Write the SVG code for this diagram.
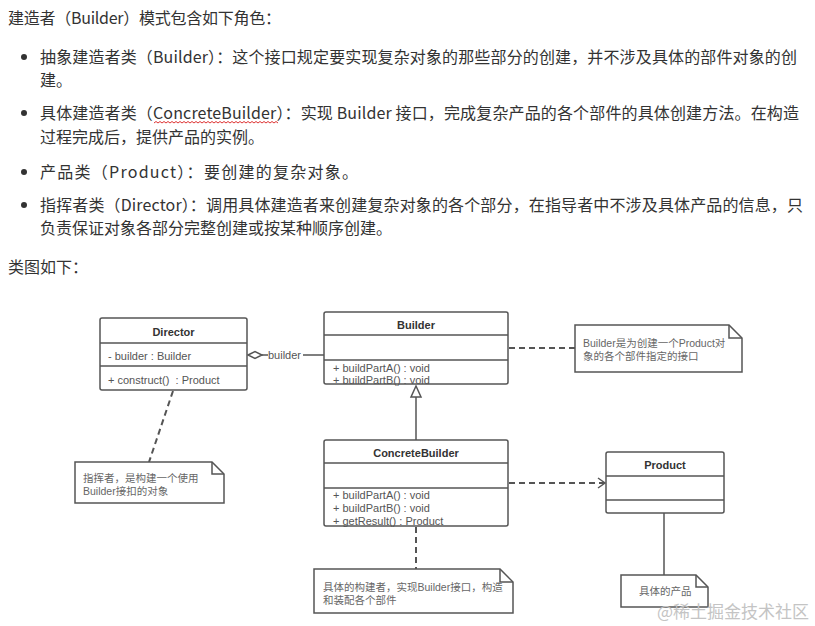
<svg xmlns="http://www.w3.org/2000/svg" width="815" height="626" viewBox="0 0 815 626">
<style>
.t{font-family:"Noto Sans CJK SC","Liberation Sans",sans-serif;font-size:16px;fill:#333}
.box{fill:#fff;stroke:#555;stroke-width:1.5}
.ln{stroke:#555;stroke-width:1.5;fill:none}
.dash{stroke:#555;stroke-width:2;fill:none;stroke-dasharray:6 4}
.ttl{font-family:"Liberation Sans","Noto Sans CJK SC",sans-serif;font-size:11px;font-weight:bold;fill:#333;text-anchor:middle}
.m{font-family:"Liberation Sans","Noto Sans CJK SC",sans-serif;font-size:11px;fill:#555}
.n{font-family:"Liberation Sans","Noto Sans CJK SC",sans-serif;font-size:10.5px;fill:#666}
</style>
<rect width="815" height="626" fill="#fff"/>
<g id="intro">
<text class="t" x="8" y="24" textLength="273" lengthAdjust="spacing">建造者（Builder）模式包含如下角色：</text>
<circle cx="24" cy="57" r="3" fill="#333"/>
<text class="t" x="40" y="63" textLength="757" lengthAdjust="spacing">抽象建造者类（Builder）：这个接口规定要实现复杂对象的那些部分的创建，并不涉及具体的部件对象的创</text>
<text class="t" x="40" y="86">建。</text>
<circle cx="24" cy="113" r="3" fill="#333"/>
<text class="t" x="40" y="119" textLength="759" lengthAdjust="spacing">具体建造者类（ConcreteBuilder）：实现 Builder 接口，完成复杂产品的各个部件的具体创建方法。在构造</text>
<path d="M154 123 l2 -1.5 l2 1.5 l2 -1.5 l2 1.5 l2 -1.5 l2 1.5 l2 -1.5 l2 1.5 l2 -1.5 l2 1.5 l2 -1.5 l2 1.5 l2 -1.5 l2 1.5 l2 -1.5 l2 1.5 l2 -1.5 l2 1.5 l2 -1.5 l2 1.5 l2 -1.5 l2 1.5 l2 -1.5 l2 1.5 l2 -1.5 l2 1.5 l2 -1.5 l2 1.5 l2 -1.5 l2 1.5 l2 -1.5 l2 1.5 l2 -1.5 l2 1.5 l2 -1.5 l2 1.5 l2 -1.5 l2 1.5 l2 -1.5 l2 1.5 l2 -1.5 l2 1.5 l2 -1.5 l2 1.5 l2 -1.5 l2 1.5 l2 -1.5 l2 1.5 l2 -1.5 l2 1.5 l2 -1.5 l2 1.5 l2 -1.5 l2 1.5 l2 -1.5 l2 1.5 l2 -1.5 l2 1.5 l2 -1.5 l2 1.5 l2 -1.5 l2 1.5" fill="none" stroke="#d33" stroke-width="1"/>
<text class="t" x="40" y="143">过程完成后，提供产品的实例。</text>
<circle cx="24" cy="172" r="3" fill="#333"/>
<text class="t" x="40" y="178" textLength="318" lengthAdjust="spacing">产品类（Product）：要创建的复杂对象。</text>
<circle cx="24" cy="205" r="3" fill="#333"/>
<text class="t" x="40" y="211" textLength="763" lengthAdjust="spacing">指挥者类（Director）：调用具体建造者来创建复杂对象的各个部分，在指导者中不涉及具体产品的信息，只</text>
<text class="t" x="40" y="234">负责保证对象各部分完整创建或按某种顺序创建。</text>
<text class="t" x="8" y="273">类图如下：</text>
</g>
<g id="connectors">
<polygon points="248,355 255,351.5 262,355 255,358.5" fill="#fff" stroke="#555" stroke-width="1.5"/>
<line class="ln" x1="262" y1="355" x2="268" y2="355"/>
<text class="m" x="268" y="359" fill="#666">builder</text>
<line class="ln" x1="303" y1="355" x2="324" y2="355"/>
<line class="ln" x1="416" y1="397" x2="416" y2="440"/>
<polygon points="416,386 421,397 411,397" fill="#fff" stroke="#555" stroke-width="1.5"/>
<line class="dash" x1="509" y1="348" x2="575" y2="348"/>
<line class="dash" x1="509" y1="483" x2="604" y2="483"/>
<polyline class="ln" points="598,478 605,483 598,488"/>
<line class="dash" x1="173" y1="391" x2="149" y2="462"/>
<line class="dash" x1="416" y1="527" x2="416" y2="569"/>
<line class="ln" x1="664" y1="513" x2="664" y2="575"/>
</g>
<g id="director">
<rect class="box" x="100" y="318" width="147" height="72" rx="2"/>
<line class="ln" x1="100" y1="343" x2="247" y2="343"/>
<line class="ln" x1="100" y1="366" x2="247" y2="366"/>
<text class="ttl" x="173.5" y="336">Director</text>
<text class="m" x="108" y="360">- builder : Builder</text>
<text class="m" x="108" y="384" xml:space="preserve">+ construct()  : Product</text>
</g>
<g id="builder">
<rect class="box" x="324" y="312" width="184" height="72" rx="2"/>
<line class="ln" x1="324" y1="335" x2="508" y2="335"/>
<line class="ln" x1="324" y1="360" x2="508" y2="360"/>
<text class="ttl" x="416" y="329">Builder</text>
<text class="m" x="333" y="371.5">+ buildPartA() : void</text>
<text class="m" x="333" y="383.5">+ buildPartB() : void</text>
</g>
<g id="concreteBuilder">
<rect class="box" x="324" y="440" width="184" height="86" rx="2"/>
<line class="ln" x1="324" y1="463" x2="508" y2="463"/>
<line class="ln" x1="324" y1="488" x2="508" y2="488"/>
<text class="ttl" x="416" y="457">ConcreteBuilder</text>
<text class="m" x="333" y="499">+ buildPartA() : void</text>
<text class="m" x="333" y="512">+ buildPartB() : void</text>
<text class="m" x="333" y="525">+ getResult() : Product</text>
</g>
<g id="product">
<rect class="box" x="606" y="452" width="118" height="61" rx="2"/>
<line class="ln" x1="606" y1="476" x2="724" y2="476"/>
<line class="ln" x1="606" y1="500" x2="724" y2="500"/>
<text class="ttl" x="665" y="469">Product</text>
</g>
<g id="noteBuilder">
<path class="box" d="M575 325 H729 L742 338 V372 H575 Z"/>
<path class="ln" d="M729 325 V338 H742"/>
<text class="n" x="583" y="347">Builder是为创建一个Product对</text>
<text class="n" x="583" y="359.5">象的各个部件指定的接口</text>
</g>
<g id="noteDirector">
<path class="box" d="M75 462 H212 L224 474 V503 H75 Z"/>
<path class="ln" d="M212 462 V474 H224"/>
<text class="n" x="83" y="482">指挥者，是构建一个使用</text>
<text class="n" x="83" y="495">Builder接扣的对象</text>
</g>
<g id="noteConcreteBuilder">
<path class="box" d="M314 569 H500 L513 582 V613 H314 Z"/>
<path class="ln" d="M500 569 V582 H513"/>
<text class="n" x="323" y="591">具体的构建者，实现Builder接口，构造</text>
<text class="n" x="323" y="604">和装配各个部件</text>
</g>
<g id="noteProduct">
<path class="box" d="M621 575 H696 L708 587 V607 H621 Z"/>
<path class="ln" d="M696 575 V587 H708"/>
<text class="n" x="639" y="594.5">具体的产品</text>
</g>
<text x="657" y="617.5" font-family="Noto Sans CJK SC, sans-serif" font-size="17" fill="#c4c4c4">@稀土掘金技术社区</text>
</svg>
